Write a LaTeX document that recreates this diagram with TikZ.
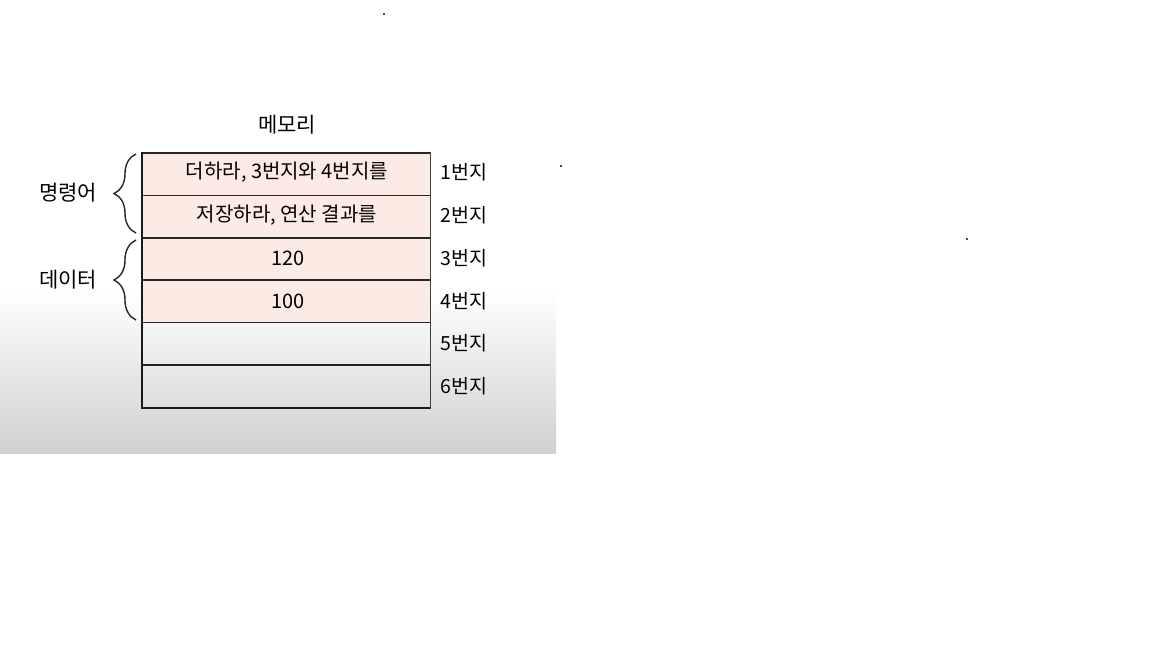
\documentclass[tikz,border=0pt]{standalone}
\usepackage{fontspec}
\setmainfont{Noto Sans CJK KR}
\usetikzlibrary{decorations.pathreplacing}
\definecolor{cellpink}{RGB}{252,234,228}
\definecolor{bggray}{RGB}{208,208,208}
\tikzset{
  celltext/.style={font=\fontsize{20}{23}\selectfont, anchor=center},
  addr/.style={font=\fontsize{19.5}{22}\selectfont, anchor=center},
  grp/.style={font=\fontsize{21}{24}\selectfont, anchor=center},
  brc/.style={draw=black!85, line width=1.4pt, decorate, decoration={brace, amplitude=22pt}},
}
\begin{document}
\begin{tikzpicture}[x=1pt,y=-1pt]
\useasboundingbox (0,0) rectangle (1152,648);
\fill[white] (0,0) rectangle (1152,648);
\shade[top color=white, bottom color=bggray] (0,292) rectangle (556,453);
\fill[white] (0,0) rectangle (556,292);
% dots
\fill[black!70] (383,13) rectangle (385,15);
\fill[black!70] (560,165) rectangle (562,167);
\fill[black!70] (966,238) rectangle (968,240);
% title
\node[grp] (title) at (287,125) {메모리};
% cells
\fill[cellpink] (142,153) rectangle (430,322);
\draw[black!85, line width=1.5pt] (142,153) -- (430,153);
\foreach \y in {195.5,238,280,322.5,365} \draw[black!85, line width=1.4pt] (142,\y) -- (430,\y);
\draw[black!90, line width=1.8pt] (142,408) -- (430,408);
\draw[black!90, line width=2pt] (142,152) -- (142,409);
\draw[black!75, line width=1pt] (430,152) -- (430,409);
\node[celltext] (r1) at (287,172) {더하라, 3번지와 4번지를};
\node[celltext] (r2) at (287,215) {저장하라, 연산 결과를};
\node[celltext] (r3) at (288,258) {120};
\node[celltext] (r4) at (288,301) {100};
% addresses
\node[addr] (a1) at (464,172) {1번지};
\node[addr] (a2) at (464,215) {2번지};
\node[addr] (a3) at (464,258) {3번지};
\node[addr] (a4) at (464,301) {4번지};
\node[addr] (a5) at (464,343) {5번지};
\node[addr] (a6) at (464,386) {6번지};
% braces
\coordinate (b1t) at (136,154);
\coordinate (b1b) at (136,233);
\coordinate (b2t) at (136,240);
\coordinate (b2b) at (136,320);
\draw[brc] (b1b) -- (b1t);
\draw[brc] (b2b) -- (b2t);
\node[grp] (g1) at (68,193) {명령어};
\node[grp] (g2) at (68,280) {데이터};
\end{tikzpicture}
\end{document}
